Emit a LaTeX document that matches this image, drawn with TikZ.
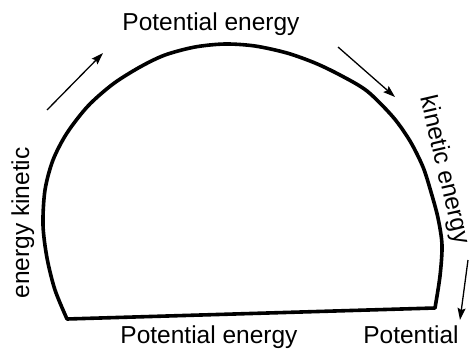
\documentclass[tikz,border=0pt]{standalone}
\usepackage{fontspec}
\setmainfont{Liberation Sans}
\usepackage{tikz}
\usetikzlibrary{positioning,arrows.meta}

\begin{document}
\begin{tikzpicture}[x=1pt, y=-1pt,
    energy_label/.style={inner sep=0pt, font=\fontsize{24.5}{28}\selectfont},
    flow_arrow/.style={line width=1.3pt, -{Stealth[length=12pt, width=8pt, inset=2pt]}}]
    \useasboundingbox (0,0) rectangle (474,350);

    % the track
    \draw[line width=3.6pt, line join=round] plot[smooth, tension=0.5] coordinates {(67,319) (55,290) (47,258) (43,225) (45,190) (53,160) (67,133) (88,106) (113,84) (140,67) (165,55) (195,47) (225,44) (255,46) (287,53) (315,63) (340,75) (367,91) (393,117) (410,141) (423,167) (431,192) (438,218) (442,245) (440,276) (435,308)} -- cycle;

    \node[energy_label, anchor=base] (pe_top) at (211,31) {Potential energy};
    \node[energy_label, anchor=base] (pe_bottom) at (209,343) {Potential energy};
    \node[energy_label, anchor=base] (p_right) at (411,343) {Potential};
    \node[energy_label, anchor=base, rotate=90] (ke_left) at (29,223) {energy kinetic};
    \node[energy_label, rotate=-77] (ke_right) at (444,170) {kinetic energy};

    \coordinate (a1s) at (47,110);  \coordinate (a1e) at (103,53);
    \coordinate (a2s) at (338,47);  \coordinate (a2e) at (395,97);
    \coordinate (a3s) at (468,260); \coordinate (a3e) at (460,320);

    \draw[flow_arrow] (a1s) -- (a1e);
    \draw[flow_arrow] (a2s) -- (a2e);
    \draw[flow_arrow] (a3s) -- (a3e);
\end{tikzpicture}
\end{document}
